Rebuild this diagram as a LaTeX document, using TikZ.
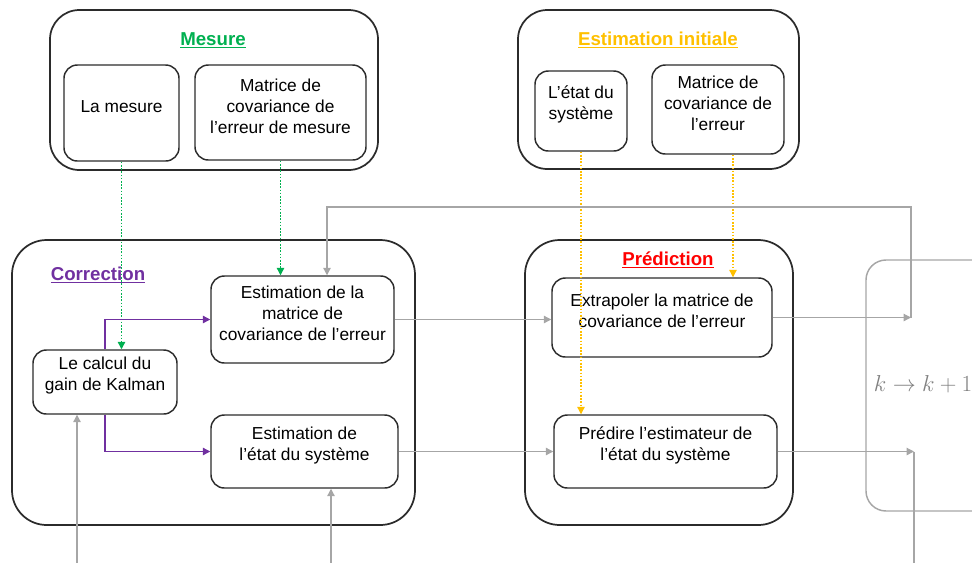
\documentclass[tikz,border=0pt]{standalone}
\usepackage{fontspec}
\setmainfont{Liberation Sans}
\usetikzlibrary{arrows.meta,fit}
\definecolor{cgreen}{HTML}{00B050}
\definecolor{cyellow}{HTML}{FFC000}
\definecolor{cpurple}{HTML}{7030A0}
\definecolor{cred}{HTML}{FF0000}
\definecolor{cgray}{HTML}{A6A6A6}
\definecolor{boxc}{HTML}{2B2B2B}
\definecolor{ktext}{HTML}{808080}
\newcommand\txtfont{\fontsize{13}{15.75}\selectfont}
\newcommand\titlefont{\fontsize{14}{17}\selectfont\bfseries}
\begin{document}
\begin{tikzpicture}[x=0.75pt,y=-0.75pt,
  outer/.style={draw=boxc, line width=1.3pt, rounded corners=22pt, inner sep=0pt},
  inner/.style={draw=boxc, line width=1.1pt, rounded corners=10pt, inner sep=0pt, align=center, font=\txtfont},
  titlelbl/.style={font=\titlefont, inner sep=0pt},
  tipc/.style={-{Triangle[length=5.5pt,width=5.5pt]}},
  greenline/.style={tipc, draw=cgreen, line width=0.9pt, dash pattern=on 1.2pt off 1.2pt},
  yellowline/.style={tipc, draw=cyellow, line width=0.9pt, dash pattern=on 1.2pt off 1.2pt},
  purpleline/.style={tipc, draw=cpurple, line width=0.9pt},
  grayline/.style={draw=cgray, line width=0.9pt},
  grayarrow/.style={tipc, draw=cgray, line width=0.9pt}]
\useasboundingbox (0,0) rectangle (972,562);
\clip (0,0) rectangle (972,562);

% outer groups
\node[outer, fit={(50,10)(378,170)}] (gmesure) {};
\node[outer, fit={(518,10)(799,169)}] (ginit) {};
\node[outer, rounded corners=26pt, fit={(12,240)(415,525)}] (gcorr) {};
\node[outer, rounded corners=26pt, fit={(525,240)(793,525)}] (gpred) {};
\node[draw=cgray, line width=1.1pt, rounded corners=15pt, inner sep=0pt, fit={(866,260)(1010,511)}] (gk) {};

% titles
\node[titlelbl, text=cgreen] (tmesure) at (213,40) {\underline{Mesure}};
\node[titlelbl, text=cyellow] (tinit) at (658,40) {\underline{Estimation initiale}};
\node[titlelbl, text=cpurple] (tcorr) at (98,275) {\underline{Correction}};
\node[titlelbl, text=cred] (tpred) at (668,260) {\underline{Prédiction}};
\node[text=ktext, font=\fontsize{16}{19}\selectfont, inner sep=0pt] (kk) at (923,384) {$k \rightarrow k+1$};

% inner boxes
\node[inner, fit={(64,65)(179,161)}] (lamesure) {La mesure\\[6pt]};
\node[inner, fit={(195,65)(366,160)}] (matm) {Matrice de\\covariance de\\l’erreur de mesure};
\node[inner, fit={(535,71)(627,151)}] (etat) {L’état du\\système};
\node[inner, fit={(652,65)(784,154)}] (mate) {Matrice de\\covariance de\\l’erreur};
\node[inner, fit={(211,276)(394,363)}] (estcov) {Estimation de la\\matrice de\\covariance de l’erreur};
\node[inner, fit={(33,350)(177,414)}] (kalman) {Le calcul du\\gain de Kalman};
\node[inner, fit={(211,415)(398,488)}] (estet) {Estimation de\\l’état du système};
\node[inner, fit={(552,278)(772,357)}] (extrap) {Extrapoler la matrice de\\covariance de l’erreur};
\node[inner, fit={(554,415)(777,488)}] (predire) {Prédire l’estimateur de\\l’état du système};

% helper coordinates
\coordinate (k1) at (911,317.5);
\coordinate (k2) at (914,451.5);
\coordinate (fbtop) at (327,207);
\coordinate (fbbot) at (914,570);

% dotted inputs
\draw[greenline] (lamesure.south) -- (lamesure.south |- kalman.north);
\draw[greenline] (matm.south) -- (matm.south |- estcov.north);
\draw[yellowline] (etat.south) -- (etat.south |- predire.north);
\draw[yellowline] (mate.south -| 733,0) -- (extrap.north -| 733,0);

% purple
\draw[purpleline] (kalman.north) |- (estcov.west);
\draw[purpleline] (kalman.south) |- (estet.west);

% gray flow
\draw[grayarrow] (estcov.east) -- (estcov.east -| extrap.west);
\draw[grayarrow] (estet.east) -- (estet.east -| predire.west);
\draw[grayarrow] (extrap.east) -- (k1);
\draw[grayarrow] (predire.east) -- (k2);
\draw[grayarrow] (k1) |- (fbtop) -- (estcov.north -| 327,0);
\draw[grayline] (k2) -- (fbbot) -| (77,560);
\draw[grayarrow] (77,570) -- (kalman.south -| 77,0);
\draw[grayarrow] (331,570) -- (estet.south -| 331,0);
\end{tikzpicture}
\end{document}
